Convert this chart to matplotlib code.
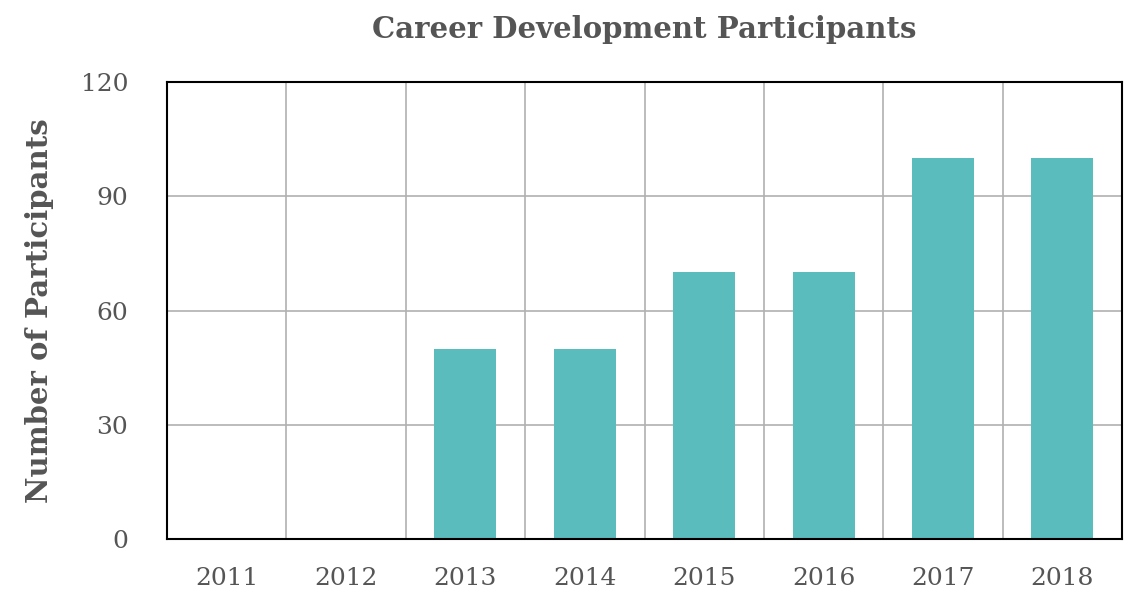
import matplotlib
matplotlib.use("Agg")
import matplotlib.pyplot as plt
import numpy as np

years = ["2011", "2012", "2013", "2014", "2015", "2016", "2017", "2018"]
participants = [0, 0, 50, 50, 70, 70, 100, 100]
y_ticks = [0, 30, 60, 90, 120]

BAR_COLOR = "#5bbcbd"
TEXT_COLOR = "#555555"
GRID_COLOR = "#b0b0b0"

plt.rcParams["font.family"] = ["DejaVu Serif"]

fig = plt.figure(figsize=(11.38, 5.92), dpi=100)
ax = fig.add_axes([0.1467, 0.0895, 0.8393, 0.772])

x = np.arange(len(years))
ax.bar(x, participants, width=0.52, color=BAR_COLOR, zorder=3)

ax.set_xlim(-0.5, len(years) - 0.5)
ax.set_ylim(0, 120)
ax.set_yticks(y_ticks)
ax.set_xticks(x)
ax.set_xticklabels(years)

# vertical lines sit between categories
ax.set_xticks(np.arange(-0.5, len(years) - 0.5 + 1), minor=True)
ax.grid(axis="x", which="minor", color=GRID_COLOR, linewidth=1.2, zorder=0)
ax.grid(axis="y", which="major", color=GRID_COLOR, linewidth=1.2, zorder=0)
ax.grid(axis="x", which="major", visible=False)

ax.tick_params(which="both", length=0)
ax.tick_params(axis="both", labelsize=18, labelcolor=TEXT_COLOR)
ax.tick_params(axis="x", pad=20)
ax.tick_params(axis="y", pad=28)

for s in ax.spines.values():
    s.set_color("black")
    s.set_linewidth(1.5)
    s.set_zorder(4)

ax.set_ylabel("Number of Participants", fontsize=21, fontweight="bold",
              color=TEXT_COLOR, labelpad=19)
# title is centred over the plot area, not the whole figure
ax.set_title("Career Development Participants", fontsize=21, fontweight="bold",
             color=TEXT_COLOR, pad=32)

fig.savefig("out.png", dpi=100)
